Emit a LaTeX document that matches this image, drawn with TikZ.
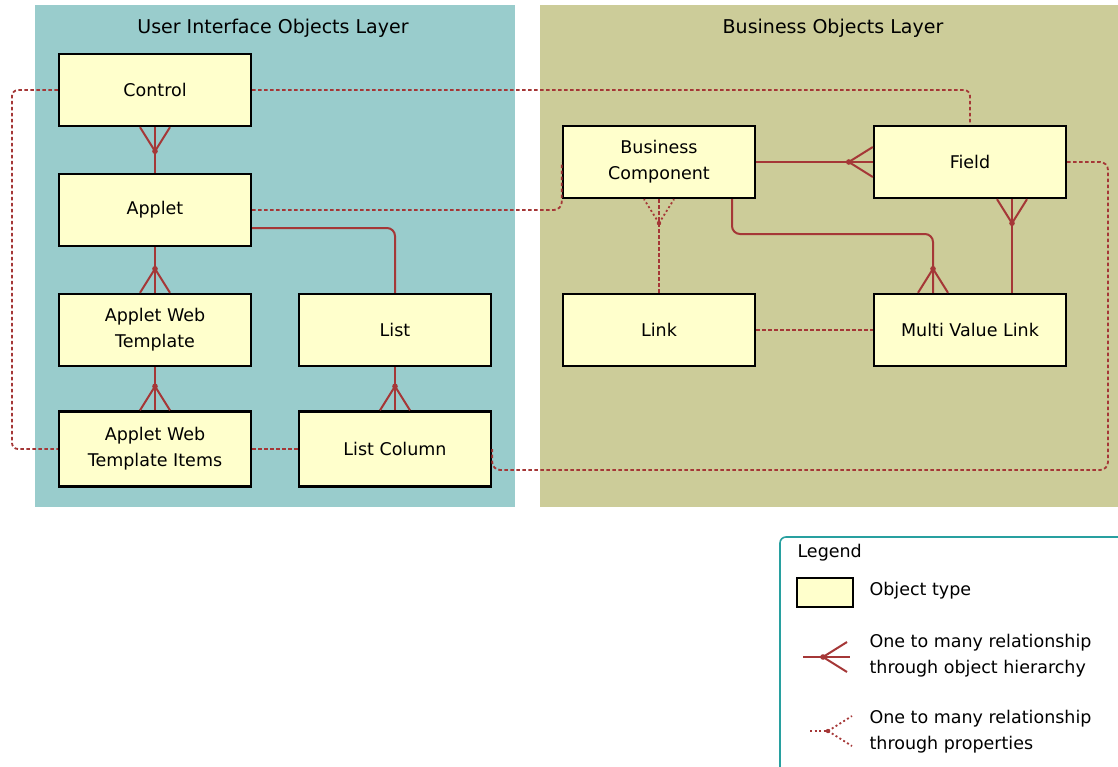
\documentclass[tikz,border=0pt]{standalone}
\usepackage{fontspec}
\setmainfont{DejaVu Sans}
\definecolor{uiteal}{RGB}{153,204,204}
\definecolor{boolive}{RGB}{204,204,153}
\definecolor{objfill}{RGB}{255,255,204}
\definecolor{relred}{RGB}{165,55,55}
\definecolor{legteal}{RGB}{40,160,160}
\tikzset{
  objbox/.style={draw=black,fill=objfill,line width=2.4pt,minimum width=192pt,
    minimum height=72pt,align=center,inner sep=0pt},
  hier/.style={draw=relred,line width=2pt},
  prop/.style={draw=relred,line width=1.8pt,dash pattern=on 3.5pt off 2.5pt},
  many/.pic={
    \fill[relred] (0,0) circle (2.8);
    \draw[hier] (0,0) -- (24,15) (0,0) -- (24,-15);
  },
  manyprop/.pic={
    \fill[relred] (0,0) circle (2.2);
    \draw[prop,dash pattern=on 2pt off 2.5pt] (0,0) -- (24,15) (0,0) -- (24,-15);
  },
}

\begin{document}
\begin{tikzpicture}[x=1pt,y=-1pt,font=\fontsize{17.5}{26}\selectfont]
  \useasboundingbox (0,0) rectangle (1118,766);
  \clip (0,0) rectangle (1118,766);
  % layers
  \fill[uiteal] (35,5) rectangle (515,507);
  \fill[boolive] (540,5) rectangle (1118,507);
  \node[font=\fontsize{19}{26}\selectfont] (uititle) at (273,28) {User Interface Objects Layer};
  \node[font=\fontsize{19}{26}\selectfont] (botitle) at (833,28) {Business Objects Layer};
  % object types
  \node[objbox] (ctrl) at (155,90) {Control};
  \node[objbox] (applet) at (155,210) {Applet};
  \node[objbox] (awt) at (155,330) {Applet Web\\Template};
  \node[objbox,minimum height=75pt] (awti) at (155,449) {Applet Web\\Template Items};
  \node[objbox] (list) at (395,330) {List};
  \node[objbox,minimum height=75pt] (lcol) at (395,449) {List Column};
  \node[objbox] (bc) at (659,162) {Business\\Component};
  \node[objbox] (field) at (970,162) {Field};
  \node[objbox] (link) at (659,330) {Link};
  \node[objbox] (mvl) at (970,330) {Multi Value Link};
  %
  \coordinate (lt) at (12,90);
  \coordinate (rt) at (1108,470);
  \coordinate (bcm) at (933,234);
  % property links
  \draw[prop,rounded corners=6] (ctrl.west) -- (lt) |- (awti.west);
  \draw[prop,rounded corners=6] (ctrl.east) -| (field.north);
  \draw[prop,rounded corners=8] (applet.east) -| (bc.west);
  \draw[prop,rounded corners=8] (field.east) -| (rt) -| (lcol.east);
  \draw[prop] (awti.east) -- (lcol.west);
  \draw[prop] (bc) -- (link);
  \pic[rotate=90] at ([yshift=-24pt]bc.south) {manyprop};
  \draw[prop] (link) -- (mvl);
  % object hierarchy
  \draw[hier] (ctrl) -- (applet);
  \pic[rotate=90] at ([yshift=-24pt]ctrl.south) {many};
  \draw[hier] (applet) -- (awt);
  \pic[rotate=-90] at ([yshift=24pt]awt.north) {many};
  \draw[hier] (awt) -- (awti);
  \pic[rotate=-90] at ([yshift=24pt]awti.north) {many};
  \draw[hier,rounded corners=8] ([yshift=-18pt]applet.east) -| (list.north);
  \draw[hier] (list) -- (lcol);
  \pic[rotate=-90] at ([yshift=24pt]lcol.north) {many};
  \draw[hier] (bc) -- (field);
  \pic[rotate=0] at ([xshift=-24pt]field.west) {many};
  \draw[hier,rounded corners=8] ([xshift=73pt]bc.south) |- (bcm) -- ([xshift=-37pt]mvl.north);
  \pic[rotate=-90] at ([xshift=-37pt,yshift=24pt]mvl.north) {many};
  \draw[hier] ([xshift=42pt]field.south) -- ([xshift=42pt]mvl.north);
  \pic[rotate=90] at ([xshift=42pt,yshift=-24pt]field.south) {many};
  % legend
  \draw[legteal,line width=1.6pt,rounded corners=6] (780,537) rectangle (1150,800);
  \node[anchor=west] (legtitle) at (794,553) {Legend};
  \node[objbox,minimum width=56pt,minimum height=29pt] (legbox) at (825,592.5) {};
  \node[anchor=west] (legobj) at (866,591) {Object type};
  \node[anchor=west,align=left] (leghier) at (866,656) {One to many relationship\\through object hierarchy};
  \node[anchor=west,align=left] (legprop) at (866,732) {One to many relationship\\through properties};
  \coordinate (lh) at (803,657);
  \coordinate (lp) at (810,731);
  \draw[hier] (lh) -- ++(47,0);
  \pic at ([xshift=20pt]lh) {many};
  \draw[prop,dash pattern=on 2pt off 2.5pt] (lp) -- ++(20,0);
  \pic at ([xshift=18pt]lp) {manyprop};
\end{tikzpicture}
\end{document}
